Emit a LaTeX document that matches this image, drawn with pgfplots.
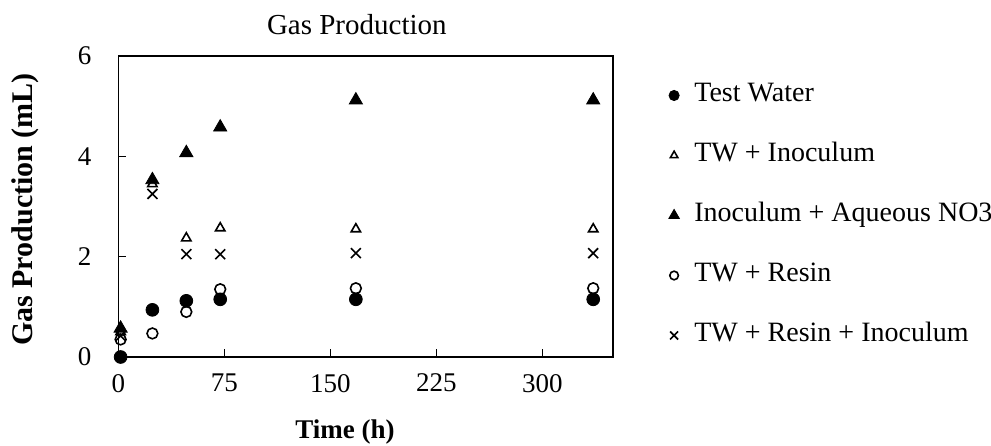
\documentclass[border=0pt]{standalone}
\usepackage{fontspec}
\setmainfont{Liberation Serif}
\usepackage{pgfplots}
\pgfplotsset{compat=1.18}

% one pixel of the reference = 0.5pt
\begin{document}
\begin{tikzpicture}
\begin{axis}[
  at={(0,0)}, anchor=south west,
  scale only axis,
  width=247.25pt, height=150.5pt,
  xmin=0, xmax=350, ymin=0, ymax=6,
  xtick={0,75,150,225,300},
  ytick={0,2,4,6},
  tick align=inside,
  xtick pos=left, ytick pos=left,
  major tick length=4pt,
  tick style={black, line width=0.6pt},
  axis line style={black, line width=0.6pt},
  /pgf/number format/assume math mode=true,
  font=\fontsize{13.5}{16}\selectfont,
  ticklabel style={font=\fontsize{13.5}{16}\selectfont},
  xticklabel shift=5pt,
  yticklabel shift=10pt,
  title={Gas Production},
  every axis title/.style={at={(rel axis cs:0.482,1)}, anchor=center, yshift=15.5pt, font=\fontsize{14.5}{17}\selectfont},
  xlabel={\textbf{Time (h)}},
  every axis x label/.style={at={(rel axis cs:0.458,0)}, anchor=center, yshift=-37.5pt, font=\fontsize{13.5}{16}\selectfont},
  ylabel={\textbf{Gas Production (mL)}},
  every axis y label/.style={at={(rel axis cs:-0.188,0.49)}, anchor=center, rotate=90, font=\fontsize{15}{18}\selectfont},
  clip=false,
  legend cell align=left,
  legend style={draw=none, fill=none, at={(rel axis cs:1.1,0.925)}, anchor=north west,
    row sep=17.5pt, font=\fontsize{14}{17}\selectfont,
    nodes={inner sep=0pt, text height=9.5pt, text depth=3pt},
    /tikz/every odd column/.append style={column sep=7.5pt}},
  legend image code/.code={\draw[#1, /tikz/every mark/.append style={scale=0.8}] plot coordinates {(0.1cm,0cm)};},
]
\addplot[only marks, mark=*, mark size=3.2pt, black] coordinates {
  (1.5,0) (24,0.94) (48,1.12) (72,1.15) (168,1.15) (336,1.15)};
\addlegendentry{Test Water}
\addplot[only marks, mark=triangle, mark size=2.7pt, black, line width=0.8pt, mark options={fill=white}] coordinates {
  (1.5,0.5) (24,3.45) (48,2.37) (72,2.57) (168,2.55) (336,2.55)};
\addlegendentry{TW + Inoculum}
\addplot[only marks, mark=triangle*, mark size=3.8pt, black] coordinates {
  (1.5,0.57) (24,3.53) (48,4.07) (72,4.58) (168,5.12) (336,5.12)};
\addlegendentry{Inoculum + Aqueous NO3}
\addplot[only marks, mark=o, mark size=2.7pt, black, line width=0.8pt] coordinates {
  (1.5,0.35) (24,0.47) (48,0.9) (72,1.35) (168,1.37) (336,1.37)};
\addlegendentry{TW + Resin}
\addplot[only marks, mark=x, mark size=3.5pt, black, line width=0.8pt] coordinates {
  (1.5,0.42) (24,3.25) (48,2.05) (72,2.05) (168,2.07) (336,2.07)};
\addlegendentry{TW + Resin + Inoculum}
\end{axis}
\pgfresetboundingbox
\path[use as bounding box] (-59.25pt,-44pt) rectangle (436.25pt,178.5pt);
\end{tikzpicture}
\end{document}
